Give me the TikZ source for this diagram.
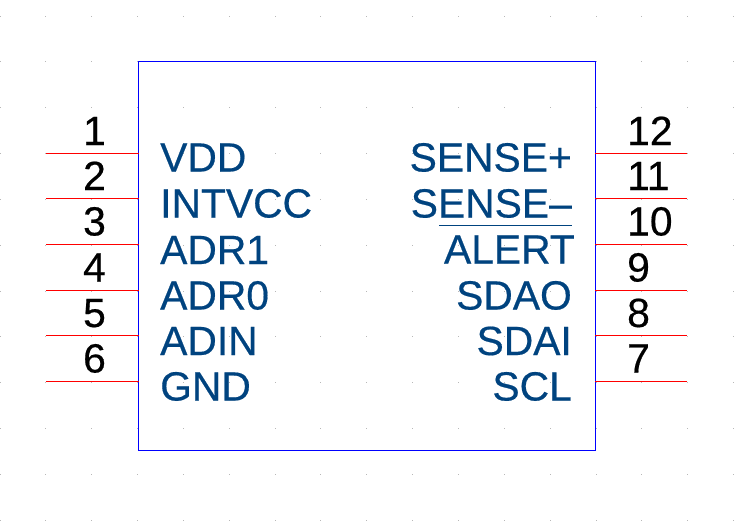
\documentclass[tikz,border=0pt]{standalone}
\usepackage{fontspec}
\newfontfamily\heavyfont{Liberation Sans}[FakeBold=0.45]
\definecolor{pinlabel}{HTML}{00437F}
\definecolor{griddot}{HTML}{B8B8B8}
\tikzset{
  x=1pt,y=-1pt,
  bodybox/.style={draw=blue,line width=1pt,fill=none,inner sep=0pt,minimum width=456.5pt,minimum height=388.5pt},
  pinline/.style={draw=red,line width=1pt},
  pinname/.style={text=pinlabel,font=\heavyfont\fontsize{40.8}{44}\selectfont,inner sep=0pt},
  pinnum/.style={text=black,font=\heavyfont\fontsize{40.8}{44}\selectfont,inner sep=0pt},
  barline/.style={draw=pinlabel,line width=1pt}
}
\begin{document}
\begin{tikzpicture}
\useasboundingbox (0,0) rectangle (737,525);
\fill[white] (0,0) rectangle (737,525);
% grid
\foreach \i in {0,...,16}{
  \foreach \j in {0,...,11}{
    \fill[griddot] ({\i*45.85-0.5},{16+\j*45.85-0.5}) rectangle ++(1,1);
  }
}
\node[bodybox,anchor=north west] (chip) at (138,61) {};
% left pins
\foreach \n/\y/\b in {1/153.5/145,2/198.5/190,3/244.5/235.5,4/290.5/281.5,5/335.5/327,6/381.5/372.5}{
  \coordinate (la\n) at (46,\y);
  \coordinate (lb\n) at (138.5,\y);
  \draw[pinline] (la\n) -- (lb\n);
  \node[pinnum,anchor=base] (ln\n) at (94.5,\b) {\n};
}
% right pins
\foreach \n/\y/\b in {12/153.5/145,11/198.5/190,10/244.5/235.5,9/290.5/281.5,8/335.5/327,7/381.5/372.5}{
  \coordinate (ra\n) at (595,\y);
  \coordinate (rb\n) at (687,\y);
  \draw[pinline] (ra\n) -- (rb\n);
  \node[pinnum,anchor=base west] (rn\n) at (627,\b) {\n};
}
% left names
\node[pinname,anchor=base west] (vdd) at (160,171.5) {VDD};
\node[pinname,anchor=base west] (intvcc) at (160,217.5) {INTVCC};
\node[pinname,anchor=base west] (adra) at (160,264) {ADR1};
\node[pinname,anchor=base west] (adrb) at (160,309.5) {ADR0};
\node[pinname,anchor=base west] (adin) at (160,355) {ADIN};
\node[pinname,anchor=base west] (gnd) at (160,400.5) {GND};
% right names
\node[pinname,anchor=base east] (sensep) at (572,171.5) {SENSE+};
\node[pinname,anchor=base east] (sensem) at (572,217.5) {SENSE–};
\node[pinname,anchor=base east] (alert) at (575,263.5) {ALERT};
\node[pinname,anchor=base east] (sdao) at (572,309.5) {SDAO};
\node[pinname,anchor=base east] (sdai) at (572,355) {SDAI};
\node[pinname,anchor=base east] (scl) at (572,400.5) {SCL};
\coordinate (bara) at (439,225.5);
\coordinate (barb) at (572,225.5);
\draw[barline] (bara) -- (barb);
\end{tikzpicture}
\end{document}
